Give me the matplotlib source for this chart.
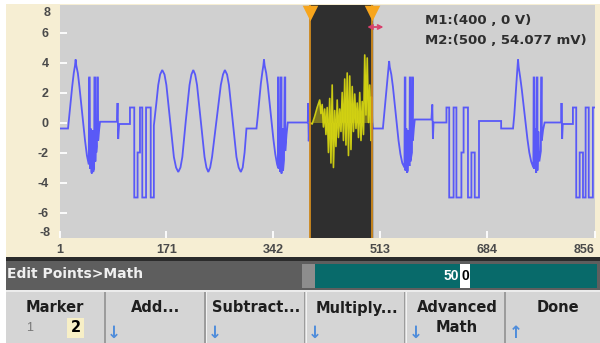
import matplotlib
matplotlib.use("Agg")
import matplotlib.pyplot as plt
from matplotlib.patches import Rectangle

# waveform vertices (sample index, volts)
lead = [(1, -0.4), (13.8, -0.4)]
bump1 = [(15.5, 0.3), (18, 1.3), (20.5, 2.4), (23, 3.3), (25, 3.8), (26, 4.2), (27, 3.8),
         (29.5, 3.3), (32, 2.4), (35, 1.2), (38, 0.0), (41, -1.2), (44, -2.2), (47, -2.8),
         (47.5, 3.0), (48.5, 3.0), (49, -3.1), (50, -0.4), (51, -3.3), (52, -3.4), (53, -0.5),
         (54, -3.3), (55.5, -3.1), (56, 3.0), (57, 3.0), (57.5, -2.6), (58.5, -0.8), (59, -2.0),
         (60, -1.6), (60.5, 3.0), (61.5, 3.0), (62, -1.2), (63.5, -0.5), (65, 0.05)]
blip1 = [(92, 0.05), (93, 1.3), (94, -1.1), (95.5, -0.1)]
pulses1 = [(112.8, -0.1), (112.8, 1.0), (119.7, 1.0), (119.7, -5.0), (125, -5.0), (125, -2.0),
           (128.8, -2.0), (128.8, 1.0), (132.5, 1.0), (132.5, -5.0), (138.5, -5.0), (138.5, 1.0),
           (146, 1.0), (146, -5.0), (151, -5.0), (151, -0.2)]
sine = [(155, 1.3), (158, 2.5), (161, 3.2), (164.4, 3.5), (168, 3.2), (171, 2.5), (177, 0.1),
        (183, -2.3), (186.5, -3.0), (190, -3.3), (193.5, -3.0), (196.5, -2.3), (202, 0.1),
        (208, 2.5), (211, 3.2), (214, 3.5), (217, 3.2), (220, 2.5), (226, 0.1), (232, -2.3),
        (235, -3.0), (238, -3.3), (241, -3.0), (244, -2.3), (251, 0.1), (258, 2.5), (261.5, 3.2),
        (264.5, 3.5), (268, 3.2), (271, 2.5), (277, 0.1), (283, -2.3), (286.5, -3.0), (290, -3.3),
        (293, -3.0), (296, -2.0), (299, -0.4), (315, -0.4)]
bump2 = [(317, 0.4), (319.5, 1.5), (322, 2.6), (324.5, 3.4), (326, 3.8), (327, 4.2), (328, 3.8),
         (330.5, 3.3), (333, 2.5), (336, 1.3), (339, 0.1), (342, -1.1), (345, -2.1), (348, -2.8),
         (349.5, -3.0), (349.5, 3.0), (350.5, 3.0), (350.5, -3.1), (352, -0.3), (353, -3.3),
         (354, 3.0), (355, 3.0), (355, -3.4), (356.5, -0.4), (357.5, -3.2), (359, -2.5), (360, 3.0),
         (361, 3.0), (361, -1.9), (363, -0.8), (365, 0.0)]
blip2 = [(397, 0.0), (397.5, 1.3), (398.5, -1.25), (399.5, 0.0)]
marked = [(400, 0.0), (404, -0.1), (408, 0.4), (412, 1.0), (416, 1.5), (418, 0.6), (420, 1.2),
          (422, -0.3), (424, 0.9), (426, -0.8), (428, 1.0), (430, -2.0), (432, 1.6), (434, -2.7),
          (436, 2.5), (438, -3.0), (440, 0.8), (442, -1.6), (444, 1.5), (446, -1.0), (448, 0.9),
          (450, -0.6), (452, 2.0), (454, -1.2), (456, 2.9), (458, -1.5), (460, 3.3), (462, -2.2),
          (464, 3.1), (466, -1.8), (468, 2.4), (470, -0.6), (472, 1.9), (474, -0.4), (476, 1.3),
          (478, -1.0), (480, 2.0), (482, -1.2), (484, 1.4), (486, -0.8), (488, 4.5), (490, 0.5),
          (492, 4.3), (494, 0.0), (496, 2.5), (498, -1.2), (499, 1.7), (500, 0.05)]
bump3 = [(501, -0.4), (517, -0.4), (519, 0.5), (521.5, 1.7), (524, 2.8), (526, 3.6), (527, 4.1),
         (528, 3.7), (530.5, 3.2), (533, 2.4), (536, 1.2), (539, 0.0), (542, -1.2), (545, -2.1),
         (548, -2.7), (551.5, -3.0), (552, 3.0), (553, 3.0), (553, -3.2), (554.5, -0.4),
         (555.6, -3.35), (557, -3.2), (558, -0.5), (559.5, -2.9), (560, 3.0), (561, 3.0),
         (561, -2.6), (563.5, -2.0), (564, 3.0), (565, 3.0), (565, -1.2), (566.5, -0.4), (568, 0.2)]
blip3 = [(594.6, 0.2), (596, 1.2), (597, -1.1), (598, 0.0)]
pulses2 = [(618.6, 0.0), (618.6, 1.0), (623, 1.0), (623, -5.0), (630, -5.0), (630, 1.0),
           (634.5, 1.0), (634.5, -5.0), (642.5, -5.0), (642.5, -2.0), (646, -2.0), (646, 1.0),
           (653, 1.0), (653, -5.0), (658.5, -5.0), (658.5, -2.0), (663.8, -2.0), (663.8, -5.0),
           (670.6, -5.0), (670.6, 0.1), (706, 0.1), (706, -0.4), (725, -0.4)]
bump4 = [(727, 0.5), (729, 1.8), (731, 3.0), (732.2, 3.7), (733, 4.2), (734, 3.7), (736.5, 3.0),
         (739, 2.2), (742, 1.1), (745, 0.0), (748, -1.1), (751, -2.0), (754, -2.6), (757.5, -3.0),
         (758, 3.0), (759, 3.0), (759, -3.1), (760.5, -0.4), (762, -3.35), (763, 3.0), (764, 3.0),
         (764, -3.2), (765.5, -0.6), (767, -2.6), (769.5, -1.9), (770, 3.0), (771, 3.0),
         (771, -1.2), (773, -0.5), (775.5, 0.0)]
blip4 = [(802, 0.0), (802.5, 1.3), (803.5, -1.1), (804.5, -0.1)]
pulses3 = [(820.7, -0.1), (820.7, 1.0), (826, 1.0), (826, -5.0), (831.5, -5.0), (831.5, -2.0),
           (836.8, -2.0), (836.8, -5.0), (841, -5.0), (841, 1.0), (846, 1.0), (846, -5.0),
           (852.6, -5.0), (852.6, 1.0), (857, 1.0)]

marker_idx = [400, 500]
marker_text = ["M1:(400 , 0 V)", "M2:(500 , 54.077 mV)"]
xticks = [1, 171, 342, 513, 684, 856]
yticks = [-8, -6, -4, -2, 0, 2, 4, 6, 8]
buttons = ["Marker", "Add...", "Subtract...", "Multiply...", "Advanced\nMath", "Done"]
arrows = ["", "\u2193", "\u2193", "\u2193", "\u2193", "\u2191"]

W, H = 600, 343
UI_FONT = 'DejaVu Sans'


def fx(px):
    return px / W


def fy(py):
    return 1 - py / H


def box(x0, y0, x1, y1, color, z=-1):
    fig.add_artist(Rectangle((fx(x0), fy(y1)), fx(x1) - fx(x0), fy(y0) - fy(y1),
                             transform=fig.transFigure, facecolor=color, edgecolor='none',
                             zorder=z))


fig = plt.figure(figsize=(6, 3.43), dpi=100)
fig.patch.set_facecolor('white')

# screen panels
box(6, 4, 600, 257, '#f6eed3')
box(6, 257, 600, 261, '#2b2b2b')
box(6, 261, 600, 290, '#5e5e5e')
box(302, 264, 315, 288, '#8d8d8d')
box(315, 264, 597, 288, '#086a6a')
box(460, 264, 470, 288, 'white')
box(6, 290, 600, 343, '#d5d5d5')
box(6, 290, 600, 292, '#ececec')
for sx in [104, 204, 304, 404, 504]:
    box(sx, 292, sx + 1.5, 343, '#9c9c9c')
    box(sx + 1.5, 292, sx + 2.5, 343, '#f2f2f2')

ax = fig.add_axes([fx(60), fy(238), fx(595) - fx(60), fy(5) - fy(238)])
ax.set_facecolor('#d0d0d0')
for s in ax.spines.values():
    s.set_visible(False)
ytop, ybot = (122.5 - 5) / 15, (122.5 - 238) / 15
ax.set_xlim(1, 856)
ax.set_ylim(ybot, ytop)

wave = lead + bump1 + blip1 + pulses1 + sine + bump2 + blip2 + marked + bump3 + blip3 + pulses2 \
    + bump4 + blip4 + pulses3
wx = [p[0] for p in wave]
wy = [p[1] for p in wave]
ax.plot(wx, wy, color='#4444ff', lw=1.3, alpha=0.85, zorder=2, solid_joinstyle='miter')

# marker zone
ax.axvspan(marker_idx[0], marker_idx[1], color='#2f2f2f', zorder=3)
mx = [p[0] for p in marked]
my = [p[1] for p in marked]
ax.fill_between(mx, my, 0, color='#858020', alpha=0.9, zorder=4, lw=0)
ax.plot(mx, my, color='#dcdc10', lw=1.2, alpha=0.9, zorder=5)
for m in marker_idx:
    ax.axvline(m, color='#d08a1e', lw=1.3, zorder=6)
ax.scatter(marker_idx, [(122.5 - 12.5) / 15] * 2, marker='v', s=125, color='#f7a51c',
           clip_on=False, zorder=7, linewidths=0)
ax.annotate('', xy=(518, (122.5 - 27) / 15), xytext=(492, (122.5 - 27) / 15),
            arrowprops=dict(arrowstyle='<->', color='#d8406c', lw=1.3, mutation_scale=7,
                            shrinkA=0, shrinkB=0), zorder=8)

# axes ticks
ax.set_xticks(xticks)
ax.set_xticklabels([str(t) for t in xticks])
ax.set_yticks([t for t in yticks if abs(t) < 8])
ax.set_yticklabels([str(t) for t in yticks if abs(t) < 8])
ax.tick_params(direction='in', color='white', length=5, width=1.3, labelsize=9,
               labelcolor='#4a4a4a')
ax.tick_params(axis='y', pad=8)
ax.tick_params(axis='x', pad=4)
for lab in ax.get_xticklabels() + ax.get_yticklabels():
    lab.set_fontweight('bold')
    lab.set_family('Liberation Sans')
ax.get_xticklabels()[-1].set_horizontalalignment('right')
yt = ax.get_yaxis_transform()
for t, py in [(8, 13), (-8, 233)]:
    ax.text(-10 / 535, (122.5 - py) / 15, str(t), transform=yt, ha='right', va='center',
            fontsize=9, fontweight='bold', color='#4a4a4a', family='Liberation Sans')

# marker readout
for i, txt in enumerate(marker_text):
    fig.text(fx(425), fy(20 + 20 * i), txt, ha='left', va='center', fontsize=9.5,
             fontweight='bold', color='#2e2e2e', family=UI_FONT)

# soft key bar
fig.text(fx(7), fy(274), 'Edit Points>Math', ha='left', va='center', fontsize=10,
         fontweight='bold', color='#f0f0f0', family=UI_FONT)
fig.text(fx(459), fy(276), '50', ha='right', va='center', fontsize=10, color='white',
         fontweight='bold', family='Liberation Sans')
fig.text(fx(465), fy(276), '0', ha='center', va='center', fontsize=10, color='black',
         fontweight='bold', family='Liberation Sans')

for i, (lab, arr) in enumerate(zip(buttons, arrows)):
    cx = 55 + 100.5 * i
    lines = lab.split('\n')
    for j, ln in enumerate(lines):
        fig.text(fx(cx), fy(308 + 19 * j), ln, ha='center', va='center', fontsize=10.5,
                 fontweight='bold', color='#1e1e1e', family=UI_FONT)
    if arr:
        fig.text(fx(107 + 100.5 * (i - 1)), fy(333), arr, ha='left', va='center', fontsize=12,
                 fontweight='bold', color='#4f8ddb', family='DejaVu Sans')

fig.text(fx(30), fy(328), '1', ha='center', va='center', fontsize=9, color='#777777',
         family='Liberation Sans')
box(67, 318, 84, 338, '#f7efc6')
fig.text(fx(75.5), fy(328), '2', ha='center', va='center', fontsize=10.5, fontweight='bold',
         color='black', family=UI_FONT)

fig.savefig('out.png', dpi=100, facecolor=fig.get_facecolor())
